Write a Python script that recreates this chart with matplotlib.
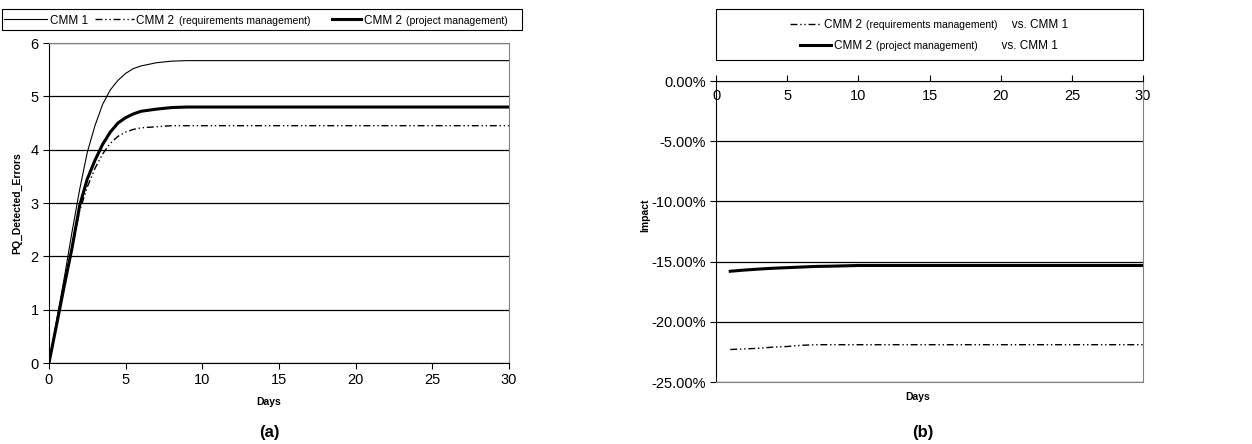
import matplotlib
matplotlib.use("Agg")
import matplotlib.pyplot as plt
from matplotlib.lines import Line2D
from matplotlib.patches import Rectangle
from matplotlib.ticker import FuncFormatter
from matplotlib.offsetbox import DrawingArea, TextArea, HPacker, VPacker, AnchoredOffsetbox

plt.rcParams['font.family'] = ['Liberation Sans', 'DejaVu Sans']

# (a) detected errors over time
days_a = [0, 0.5, 1, 1.5, 2, 2.5, 3, 3.5, 4, 4.5, 5, 5.5, 6, 7, 8, 9, 10, 15, 20, 25, 30]
cmm1 = [0, 0.8, 1.6, 2.45, 3.25, 3.95, 4.45, 4.85, 5.12, 5.3, 5.43, 5.52, 5.57, 5.63,
        5.66, 5.67, 5.67, 5.67, 5.67, 5.67, 5.67]
cmm2_req = [0, 0.72, 1.45, 2.15, 2.85, 3.3, 3.65, 3.92, 4.12, 4.25, 4.33, 4.38, 4.41, 4.43,
            4.45, 4.45, 4.45, 4.45, 4.45, 4.45, 4.45]
cmm2_proj = [0, 0.72, 1.45, 2.15, 2.95, 3.45, 3.8, 4.1, 4.33, 4.5, 4.6, 4.67, 4.72, 4.76,
             4.79, 4.8, 4.8, 4.8, 4.8, 4.8, 4.8]

# (b) relative impact vs. CMM 1, in percent
days_b = list(range(1, 31))
impact_req = [-22.3, -22.25, -22.2, -22.1, -22.05, -21.95, -21.9] + [-21.9] * 23
impact_proj = [-15.8, -15.7, -15.62, -15.55, -15.5, -15.45, -15.4, -15.38, -15.35] + [-15.32] * 21

x_ticks = [0, 5, 10, 15, 20, 25, 30]
y_ticks_a = [0, 1, 2, 3, 4, 5, 6]
y_ticks_b = [-25, -20, -15, -10, -5, 0]

GREY = '#808080'
DASH = (0, (5, 2, 1, 2, 1, 2))
thin = dict(color='black', lw=0.8)
dashdot = dict(color='black', lw=1.0, linestyle=DASH)
thick = dict(color='black', lw=2.2)

fig = plt.figure(figsize=(12.52, 4.44), dpi=100)
ax_a = fig.add_axes([0.0391, 0.1824, 0.3674, 0.7207])
ax_b = fig.add_axes([0.5719, 0.1396, 0.3411, 0.6779])

# --- chart (a)
ax_a.plot(days_a, cmm1, **thin)
ax_a.plot(days_a, cmm2_req, **dashdot)
ax_a.plot(days_a, cmm2_proj, **thick)
ax_a.set_xlim(0, 30)
ax_a.set_ylim(0, 6)
ax_a.set_xticks(x_ticks)
ax_a.set_yticks(y_ticks_a)
ax_a.yaxis.grid(True, color='black', lw=0.9)
ax_a.set_axisbelow(True)
ax_a.spines['top'].set_color(GREY)
ax_a.spines['right'].set_color(GREY)
ax_a.tick_params(direction='out', length=4, width=0.8, labelsize=10.5)
ax_a.set_xlabel('Days', fontsize=7.5, fontweight='bold')
ax_a.xaxis.set_label_coords(0.478, -0.105)
ax_a.set_ylabel('PQ_Detected_Errors', fontsize=7.5, fontweight='bold')
ax_a.yaxis.set_label_coords(-0.058, 0.5)

# --- chart (b)
ax_b.plot(days_b, impact_req, **dashdot)
ax_b.plot(days_b, impact_proj, **thick)
ax_b.set_xlim(0, 30)
ax_b.set_ylim(-25, 0)
ax_b.set_xticks(x_ticks)
ax_b.set_yticks(y_ticks_b)
ax_b.yaxis.set_major_formatter(FuncFormatter(lambda v, _: f'{v:.2f}%'))
ax_b.yaxis.grid(True, color='black', lw=0.9)
ax_b.set_axisbelow(True)
ax_b.spines['bottom'].set_color(GREY)
ax_b.spines['right'].set_color(GREY)
ax_b.xaxis.tick_top()
ax_b.tick_params(axis='x', direction='out', length=4, width=0.8, labelsize=10.5, pad=-19.5)
ax_b.tick_params(axis='y', direction='out', length=4, width=0.8, labelsize=10.5)
ax_b.set_xlabel('Days', fontsize=7.5, fontweight='bold')
ax_b.xaxis.set_label_position('bottom')
ax_b.xaxis.set_label_coords(0.471, -0.033)
ax_b.set_ylabel('Impact', fontsize=7.5, fontweight='bold')
ax_b.yaxis.set_label_coords(-0.155, 0.555)

fig.text(0.2149, 0.025, '(a)', fontsize=12, fontweight='bold', ha='center', va='center')
fig.text(0.7372, 0.025, '(b)', fontsize=12, fontweight='bold', ha='center', va='center')


def sample(style, length):
    da = DrawingArea(length, 8, 0, 0)
    da.add_artist(Line2D([0, length], [3.2, 3.2], **style))
    return da


def gap(width):
    return DrawingArea(width, 1, 0, 0)


def entry(style, length, main, small=None, tail=None):
    parts = [TextArea(main, textprops=dict(size=8.5))]
    if small:
        parts.append(TextArea(small, textprops=dict(size=7.5)))
    if tail:
        parts.append(TextArea(tail, textprops=dict(size=8.5)))
    text = HPacker(children=parts, align='baseline', pad=0, sep=3)
    return HPacker(children=[sample(style, length), text], align='baseline', pad=0, sep=2)


def framed_legend(content, box, center):
    fig.add_artist(Rectangle(box[:2], box[2], box[3], transform=fig.transFigure,
                             fill=False, edgecolor='black', lw=0.8))
    fig.add_artist(AnchoredOffsetbox(loc='center', child=content, pad=0, borderpad=0,
                                     frameon=False, bbox_to_anchor=center,
                                     bbox_transform=fig.transFigure))


row_a = HPacker(children=[entry(thin, 31, 'CMM 1'), gap(5),
                          entry(dashdot, 28, 'CMM 2', '(requirements management)'), gap(16),
                          entry(thick, 21, 'CMM 2', '(project management)')],
                align='baseline', pad=0, sep=0)
framed_legend(row_a, (0.0016, 0.9324, 0.4153, 0.0473), (0.2045, 0.956))

rows_b = VPacker(children=[entry(dashdot, 22, 'CMM 2', '(requirements management)', '   vs. CMM 1'),
                           entry(thick, 22, 'CMM 2', '(project management)', '      vs. CMM 1')],
                 align='center', pad=0, sep=5)
framed_legend(rows_b, (0.5719, 0.8649, 0.3411, 0.1149), (0.742, 0.9223))

fig.savefig('out.png', dpi=100)
